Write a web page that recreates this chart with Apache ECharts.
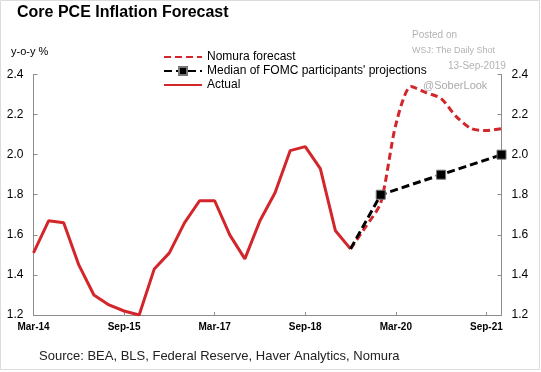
<!DOCTYPE html>
<html>
<head>
<meta charset="utf-8">
<script src="https://cdn.jsdelivr.net/npm/echarts@6/dist/echarts.min.js"></script>
<style>
html,body{margin:0;padding:0;background:#fff;}
#c{width:541px;height:372px;}
</style>
</head>
<body>
<div id="c"></div>
<script>
const categories = ['Mar-14','Jun-14','Sep-14','Dec-14','Mar-15','Jun-15','Sep-15','Dec-15',
  'Mar-16','Jun-16','Sep-16','Dec-16','Mar-17','Jun-17','Sep-17','Dec-17',
  'Mar-18','Jun-18','Sep-18','Dec-18','Mar-19','Jun-19','Sep-19','Dec-19',
  'Mar-20','Jun-20','Sep-20','Dec-20','Mar-21','Jun-21','Sep-21','Dec-21'];
const actual = [1.51,1.67,1.66,1.45,1.30,1.25,1.22,1.20,
  1.43,1.51,1.66,1.77,1.77,1.60,1.48,1.67,
  1.81,2.02,2.04,1.93,1.62,1.53];
const nomura = [null,null,null,null,null,null,null,null,
  null,null,null,null,null,null,null,null,
  null,null,null,null,null,1.53,1.64,1.76,
  2.15,2.34,2.31,2.28,2.19,2.13,2.12,2.13];
const fomc = [null,null,null,null,null,null,null,null,
  null,null,null,null,null,null,null,null,
  null,null,null,null,null,1.53,null,1.80,
  null,null,null,1.90,null,null,null,2.00];
const fomcMarked = [false,false,false,false,false,false,false,false,
  false,false,false,false,false,false,false,false,
  false,false,false,false,false,false,false,true,
  false,false,false,true,false,false,false,true];
const yTicks = [1.2,1.4,1.6,1.8,2.0,2.2,2.4];

const RED = '#d3262b';
const chart = echarts.init(document.getElementById('c'));
const yAxisCommon = {
  type:'value', min:yTicks[0], max:yTicks[yTicks.length-1], interval:0.2,
  splitLine:{show:false},
  axisLine:{show:true, lineStyle:{color:'#8c8c8c', width:1}},
  axisTick:{show:true, inside:true, length:4, lineStyle:{color:'#8c8c8c'}},
  axisLabel:{color:'#000', fontSize:12, fontFamily:'Liberation Sans, Arial', formatter:v=>v.toFixed(1), margin:10}
};
chart.setOption({
  animation:false,
  backgroundColor:'#fff',
  title:{text:'Core PCE Inflation Forecast', left:17, top:5, padding:0,
    textStyle:{fontSize:16, fontWeight:'bold', color:'#000', fontFamily:'Liberation Sans, Arial'}},
  legend:{
    orient:'vertical', left:163, top:51, itemWidth:38, itemHeight:10, itemGap:2, padding:0,
    data:[
      {name:'Nomura forecast', itemStyle:{opacity:0}},
      {name:"Median of FOMC participants' projections"},
      {name:'Actual', itemStyle:{opacity:0}}
    ],
    textStyle:{fontSize:12, color:'#000', fontFamily:'Liberation Sans, Arial'}
  },
  grid:{left:33.5, right:39.5, top:74.5, bottom:57, containLabel:false},
  xAxis:{
    type:'category', data:categories, boundaryGap:false,
    axisLine:{lineStyle:{color:'#8c8c8c'}},
    axisTick:{inside:true, length:3, interval:5, lineStyle:{color:'#8c8c8c'}},
    axisLabel:{interval:5, color:'#000', fontSize:10, fontWeight:'bold', fontFamily:'Liberation Sans, Arial', margin:7}
  },
  yAxis:[
    Object.assign({}, yAxisCommon, {position:'left'}),
    Object.assign({}, yAxisCommon, {position:'right'})
  ],
  series:[
    {name:'Actual', type:'line', data:actual, symbol:'none',
      lineStyle:{color:RED, width:3}, itemStyle:{color:RED}},
    {name:'Nomura forecast', type:'line', data:nomura, symbol:'none', smooth:0.25, connectNulls:true,
      lineStyle:{color:RED, width:3, type:[7,4]}, itemStyle:{color:RED}},
    {name:"Median of FOMC participants' projections", type:'line', connectNulls:true,
      data:fomc.map((v,i)=>v===null?null:{value:v, symbol: fomcMarked[i]?'rect':'none'}),
      symbol:'rect', symbolSize:9,
      lineStyle:{color:'#000', width:3, type:[8,4]},
      itemStyle:{color:'#000', borderColor:'#777', borderWidth:1}}
  ],
  graphic:[
    {type:'rect', shape:{x:0.5,y:0.5,width:539,height:369}, style:{fill:null, stroke:'#dcdcdc', lineWidth:1}, silent:true},
    {type:'text', left:11, top:46, style:{text:'y-o-y %', font:'11px "Liberation Sans", Arial', fill:'#000'}},
    {type:'text', left:412, top:30, style:{text:'Posted on', font:'10px "Liberation Sans", Arial', fill:'#b3b3b3'}},
    {type:'text', left:412, top:46, style:{text:'WSJ: The Daily Shot', font:'9px "Liberation Sans", Arial', fill:'#b3b3b3'}},
    {type:'text', left:448, top:61, style:{text:'13-Sep-2019', font:'10px "Liberation Sans", Arial', fill:'#b3b3b3'}},
    {type:'text', left:423, top:80, style:{text:'@SoberLook', font:'11px "Liberation Sans", Arial', fill:'#aaaaaa'}},
    {type:'text', left:39, top:350, style:{text:'Source: BEA, BLS, Federal Reserve, Haver Analytics, Nomura', font:'13px "Liberation Sans", Arial', fill:'#222'}}
  ]
});
</script>
</body>
</html>
